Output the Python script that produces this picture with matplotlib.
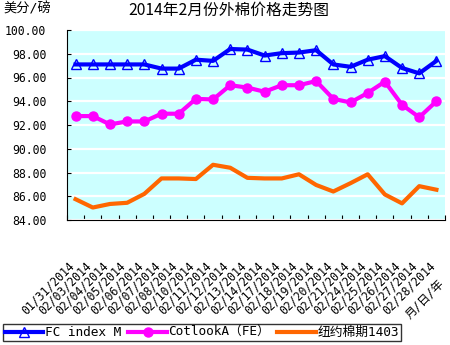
import matplotlib
matplotlib.use("Agg")
from matplotlib import pyplot as plt
from matplotlib import transforms

plt.rcParams['font.family'] = ['DejaVu Sans Mono', 'Noto Sans CJK SC']

# data
dates = ["01/31/2014", "02/03/2014", "02/04/2014", "02/05/2014", "02/06/2014",
         "02/07/2014", "02/08/2014", "02/10/2014", "02/11/2014", "02/12/2014",
         "02/13/2014", "02/14/2014", "02/17/2014", "02/18/2014", "02/19/2014",
         "02/20/2014", "02/21/2014", "02/24/2014", "02/25/2014", "02/26/2014",
         "02/27/2014", "02/28/2014"]
fc_index = [97.1, 97.1, 97.1, 97.1, 97.1, 96.75, 96.75, 97.5, 97.4, 98.4, 98.35,
            97.85, 98.05, 98.1, 98.3, 97.1, 96.9, 97.5, 97.8, 96.8, 96.35, 97.4]
cotlook = [92.75, 92.75, 92.05, 92.3, 92.3, 92.95, 92.95, 94.2, 94.15, 95.35, 95.15,
           94.8, 95.35, 95.35, 95.7, 94.2, 93.9, 94.7, 95.65, 93.7, 92.65, 94.0]
ny_1403 = [85.75, 85.05, 85.35, 85.45, 86.2, 87.5, 87.5, 87.45, 88.65, 88.4, 87.55,
           87.5, 87.5, 87.85, 86.95, 86.4, 87.1, 87.85, 86.15, 85.4, 86.85, 86.55]
y_ticks = [84, 86, 88, 90, 92, 94, 96, 98, 100]

fig = plt.figure(figsize=(4.5, 3.45), dpi=100)
ax = fig.add_axes([67 / 450, 1 - 220 / 345, 378 / 450, 190 / 345])
ax.set_facecolor("#CCFFFF")

x = list(range(len(dates)))
ax.plot(x, fc_index, color="#0000FF", lw=3, marker="^", ms=7, mfc="none",
        mec="#0000FF", mew=1, label="FC index M", zorder=3)
ax.plot(x, cotlook, color="#FF00FF", lw=3, marker="o", ms=6.5,
        label="CotlookA（FE）", zorder=3)
ax.plot(x, ny_1403, color="#FF6600", lw=3, label="纽约棉期1403", zorder=3)

ax.set_xlim(-0.5, len(dates) - 0.5)
ax.set_ylim(84, 100)
ax.set_yticks(y_ticks)
ax.set_yticklabels(["%.2f" % v for v in y_ticks], fontsize=8.3)
ax.yaxis.grid(True, color="white", lw=1.6)
ax.set_axisbelow(True)
for s in ["top", "right"]:
    ax.spines[s].set_visible(False)
ax.tick_params(axis="y", direction="in", length=3, pad=15)
ax.set_xticks([i + 0.5 for i in range(-1, len(dates))])
ax.set_xticklabels([])
ax.tick_params(axis="x", direction="in", length=3.5)

# rotated date labels, like the excel output
off = transforms.ScaledTranslation(-8 / 100, -39 / 100, fig.dpi_scale_trans)
tr = transforms.blended_transform_factory(ax.transData, ax.transAxes) + off
for i, d in enumerate(dates):
    ax.text(i, 0, d, transform=tr, rotation=45, ha="right", va="top",
            rotation_mode="anchor", fontsize=8.3)
fig.text(437 / 450, 1 - 277 / 345, "月/日/年", rotation=45, ha="right", va="top",
         rotation_mode="anchor", fontsize=8.5)

fig.text(3 / 450, 1 - 2 / 345, "美分/磅", ha="left", va="top", fontsize=9.5)
fig.text(229 / 450, 1 - 2 / 345, "2014年2月份外棉价格走势图", ha="center", va="top",
         fontsize=11.3, family=["Noto Sans CJK SC"])

leg = fig.legend(loc="lower left", bbox_to_anchor=(3 / 450, 4 / 345), ncol=3,
                 fontsize=9.2, frameon=True, fancybox=False, edgecolor="black",
                 borderaxespad=0, borderpad=0.15, handlelength=3.0,
                 handletextpad=0.1, columnspacing=0.6)
leg.get_frame().set_linewidth(1)

fig.savefig("out.png", dpi=100)
